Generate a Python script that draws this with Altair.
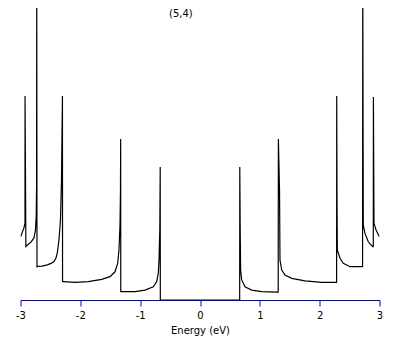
import altair as alt
import pandas as pd

# Density of states of a (5,4) nanotube
# negative-energy side (valence band)
energy_neg = [-2.997, -2.968, -2.943, -2.925, -2.924, -2.910, -2.875, -2.825, -2.775, -2.750,
              -2.737, -2.731, -2.729, -2.724, -2.719, -2.640, -2.552, -2.490, -2.440, -2.407,
              -2.385, -2.357, -2.332, -2.315, -2.299, -2.297, -2.285, -2.089, -1.867, -1.643,
              -1.504, -1.421, -1.376, -1.354, -1.337, -1.329, -1.326, -1.324, -1.308, -1.086,
              -0.919, -0.781, -0.724, -0.697, -0.685, -0.672, -0.665, -0.663]
dos_neg = [2.11, 2.27, 2.40, 2.56, 6.80, 1.78, 1.85, 1.93, 2.07, 2.33,
           2.83, 3.80, 11.0, 1.11, 1.12, 1.13, 1.17, 1.22, 1.28, 1.40,
           1.57, 2.00, 2.67, 4.00, 6.80, 0.61, 0.61, 0.59, 0.61, 0.69,
           0.78, 0.94, 1.22, 1.67, 2.50, 3.67, 5.37, 0.28, 0.28, 0.28,
           0.33, 0.44, 0.61, 0.89, 1.33, 2.33, 4.43, 0.0]
# positive-energy side (conduction band)
energy_pos = [0.663, 0.665, 0.672, 0.679, 0.697, 0.752, 0.864, 1.031, 1.299, 1.307,
              1.310, 1.329, 1.337, 1.366, 1.421, 1.533, 1.755, 2.034, 2.256, 2.283,
              2.285, 2.290, 2.295, 2.340, 2.395, 2.507, 2.703, 2.717, 2.720, 2.729,
              2.758, 2.813, 2.886, 2.896, 2.898, 2.908, 2.942, 2.997]
dos_pos = [0.0, 4.43, 2.33, 1.00, 0.67, 0.44, 0.33, 0.28, 0.26, 0.26,
           5.37, 3.67, 1.33, 1.00, 0.83, 0.72, 0.64, 0.59, 0.59, 0.59,
           6.80, 3.33, 1.67, 1.39, 1.22, 1.11, 1.11, 1.11, 11.0, 2.50,
           2.22, 1.94, 1.78, 1.78, 6.77, 2.56, 2.33, 2.11]

x_ticks = [-3, -2.5, -2, -1.5, -1, -0.5, 0, 0.5, 1, 1.5, 2, 2.5, 3]
label_text = ["(5,4)"]
label_pos = [-0.32]

energy = energy_neg + energy_pos
dos = dos_neg + dos_pos
df = pd.DataFrame({"E": energy, "DOS": dos, "i": list(range(len(energy)))})
lab = pd.DataFrame({"E": label_pos, "t": label_text})

FONT = "DejaVu Sans"
blue = "#0000CC"

x_scale = alt.Scale(domain=[-3, 3], nice=False, zero=False)
y_scale = alt.Scale(domain=[0, 9.7333], nice=False, zero=True)

line = alt.Chart(df).mark_line(color="black", strokeWidth=1.2, clip=True, interpolate="linear").encode(
    x=alt.X("E:Q", scale=x_scale,
            axis=alt.Axis(title="Energy (eV)", values=x_ticks, ticks=True,
                          labelExpr="datum.value % 1 == 0 ? toString(datum.value) : ''",
                          domainColor=blue, tickColor=blue, domainWidth=1, tickWidth=1,
                          tickSize=6, labelColor="black", labelFontSize=10, labelFont=FONT,
                          labelPadding=4, titleFont=FONT, titleFontSize=10,
                          titleFontWeight="normal", titleColor="black", titlePadding=5,
                          grid=False, labelFlush=False, labelOverlap=False)),
    y=alt.Y("DOS:Q", scale=y_scale, axis=None),
    order="i:Q",
)

text = alt.Chart(lab).mark_text(font=FONT, fontSize=10, color="black", baseline="top").encode(
    x=alt.X("E:Q", scale=x_scale),
    y=alt.value(1),
    text="t:N",
)

chart = alt.layer(line, text).properties(
    width=359, height=292,
    background="white",
    autosize=alt.AutoSizeParams(type="none"),
    padding={"left": 12.5, "top": 0, "right": 20, "bottom": 36},
).configure_view(stroke=None)

chart.save("out.html", embed_options={"renderer": "svg", "actions": False})
